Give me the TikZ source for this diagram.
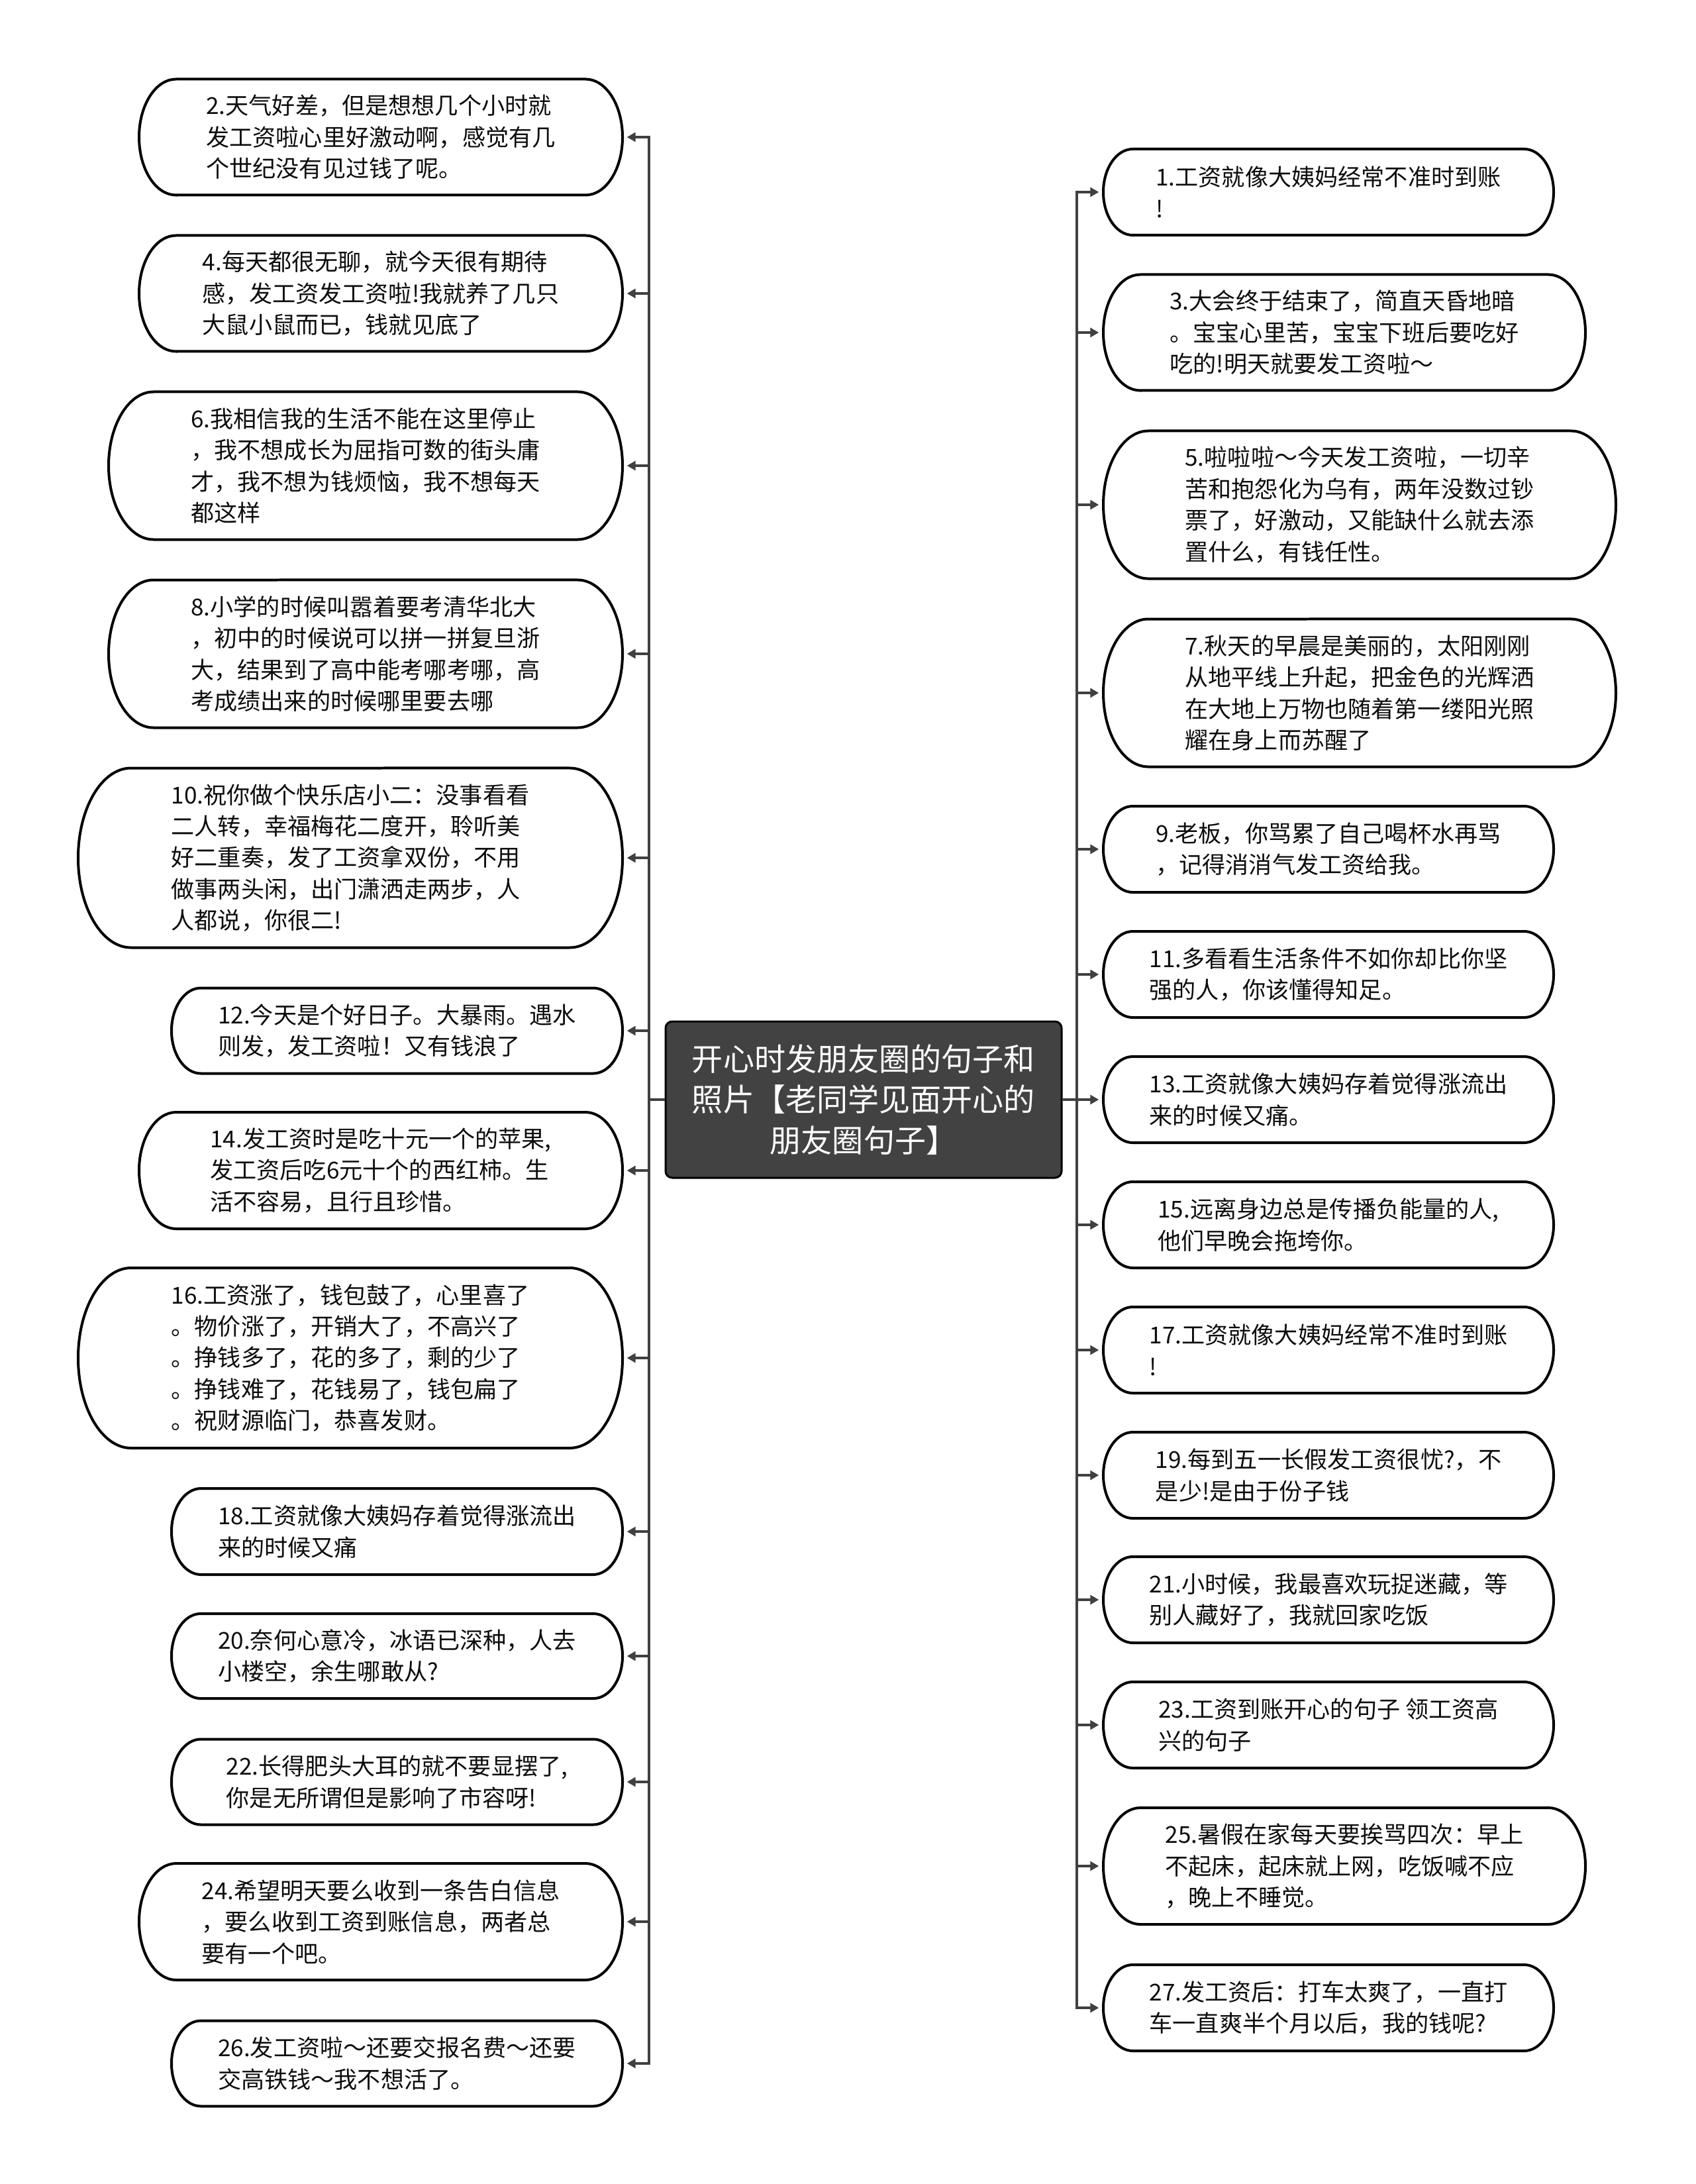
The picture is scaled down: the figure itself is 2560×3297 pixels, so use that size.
\documentclass[tikz,border=0pt]{standalone}
\usepackage{fontspec}
\setmainfont{Noto Sans CJK SC}
\usetikzlibrary{arrows.meta}
\definecolor{linegray}{HTML}{404040}
\definecolor{rootfill}{HTML}{424242}
\tikzset{
  bubline/.style={draw=black, line width=0.4mm, fill=white},
  bubtext/.style={inner sep=0pt, align=left, text=black!95, font=\fontsize{10pt}{13.5pt}\selectfont},
  root/.style={draw=black, line width=0.3mm, fill=rootfill, rounded corners=1mm, text=white, align=center, font=\fontsize{13.4pt}{17.4pt}\selectfont, inner sep=0pt},
  conn/.style={draw=linegray, line width=0.38mm, -{Triangle[length=1.3mm,width=1.4mm]}, shorten >=0.6mm},
}
\newcommand\bubble[6]{%
  \pgfmathsetmacro\bxa{#2}\pgfmathsetmacro\bxb{#3}%
  \pgfmathsetmacro\bcx{(#2+#3)/2}\pgfmathsetmacro\bcy{-#4}%
  \pgfmathsetmacro\brx{0.25*#5+12}\pgfmathsetmacro\bry{#5/2}%
  \pgfmathsetmacro\bw{(#3-#2)*0.1}\pgfmathsetmacro\bh{#5*0.1}%
  \pgfmathsetmacro\brxd{\brx*0.1}\pgfmathsetmacro\bryd{\bry*0.1}%
  \draw[bubline] (\bxa+\brx,\bcy-\bry) -- (\bxb-\brx,\bcy-\bry)
    arc[start angle=-90,end angle=90,x radius=\brxd mm,y radius=\bryd mm]
    -- (\bxa+\brx,\bcy+\bry)
    arc[start angle=90,end angle=270,x radius=\brxd mm,y radius=\bryd mm] -- cycle;
  \node[bubtext, minimum width=\bw mm, minimum height=\bh mm] (#1) at (\bcx,\bcy) {#6};
}
\begin{document}
\begin{tikzpicture}[x=0.1mm,y=0.1mm]
\fill[white] (0,0) rectangle (2560,-3297);
\useasboundingbox (0,0) rectangle (2560,-3297);

% root
\node[root, minimum width=59.8mm, minimum height=23.6mm] (c) at (1304,-1660)
  {开心时发朋友圈的句子和\\照片【老同学见面开心的\\朋友圈句子】};
\coordinate (lt) at (980,-1660);
\coordinate (rt) at (1626,-1660);

% left column
\bubble{L2}{210}{940}{207}{175}{2.天气好差，但是想想几个小时就\\发工资啦心里好激动啊，感觉有几\\个世纪没有见过钱了呢。}
\bubble{L4}{210}{940}{443}{175}{4.每天都很无聊，就今天很有期待\\感，发工资发工资啦!我就养了几只\\大鼠小鼠而已，钱就见底了}
\bubble{L6}{164}{940}{703}{223}{6.我相信我的生活不能在这里停止\\，我不想成长为屈指可数的街头庸\\才，我不想为钱烦恼，我不想每天\\都这样}
\bubble{L8}{164}{940}{987}{223}{8.小学的时候叫嚣着要考清华北大\\，初中的时候说可以拼一拼复旦浙\\大，结果到了高中能考哪考哪，高\\考成绩出来的时候哪里要去哪}
\bubble{L10}{118}{940}{1295}{271}{10.祝你做个快乐店小二：没事看看\\二人转，幸福梅花二度开，聆听美\\好二重奏，发了工资拿双份，不用\\做事两头闲，出门潇洒走两步，人\\人都说，你很二!}
\bubble{L12}{259}{940}{1556}{129}{12.今天是个好日子。大暴雨。遇水\\则发，发工资啦！又有钱浪了}
\bubble{L14}{210}{940}{1767}{176}{14.发工资时是吃十元一个的苹果,\\发工资后吃6元十个的西红柿。生\\活不容易，且行且珍惜。}
\bubble{L16}{118}{940}{2050}{272}{16.工资涨了，钱包鼓了，心里喜了\\。物价涨了，开销大了，不高兴了\\。挣钱多了，花的多了，剩的少了\\。挣钱难了，花钱易了，钱包扁了\\。祝财源临门，恭喜发财。}
\bubble{L18}{259}{940}{2312}{130}{18.工资就像大姨妈存着觉得涨流出\\来的时候又痛}
\bubble{L20}{259}{940}{2500}{128}{20.奈何心意冷，冰语已深种，人去\\小楼空，余生哪敢从?}
\bubble{L22}{259}{940}{2690}{129}{22.长得肥头大耳的就不要显摆了,\\你是无所谓但是影响了市容呀!}
\bubble{L24}{210}{940}{2901}{176}{24.希望明天要么收到一条告白信息\\，要么收到工资到账信息，两者总\\要有一个吧。}
\bubble{L26}{259}{940}{3115}{129}{26.发工资啦～还要交报名费～还要\\交高铁钱～我不想活了。}

% right column
\bubble{R1}{1666}{2346}{290}{130}{1.工资就像大姨妈经常不准时到账\\!}
\bubble{R3}{1666}{2394}{502}{175}{3.大会终于结束了，简直天昏地暗\\。宝宝心里苦，宝宝下班后要吃好\\吃的!明天就要发工资啦～}
\bubble{R5}{1666}{2440}{762}{223}{5.啦啦啦～今天发工资啦，一切辛\\苦和抱怨化为乌有，两年没数过钞\\票了，好激动，又能缺什么就去添\\置什么，有钱任性。}
\bubble{R7}{1666}{2440}{1046}{223}{7.秋天的早晨是美丽的，太阳刚刚\\从地平线上升起，把金色的光辉洒\\在大地上万物也随着第一缕阳光照\\耀在身上而苏醒了}
\bubble{R9}{1666}{2346}{1282}{130}{9.老板，你骂累了自己喝杯水再骂\\，记得消消气发工资给我。}
\bubble{R11}{1666}{2346}{1471}{130}{11.多看看生活条件不如你却比你坚\\强的人，你该懂得知足。}
\bubble{R13}{1666}{2346}{1660}{130}{13.工资就像大姨妈存着觉得涨流出\\来的时候又痛。}
\bubble{R15}{1666}{2346}{1849}{130}{15.远离身边总是传播负能量的人,\\他们早晚会拖垮你。}
\bubble{R17}{1666}{2346}{2038}{130}{17.工资就像大姨妈经常不准时到账\\!}
\bubble{R19}{1666}{2346}{2227}{130}{19.每到五一长假发工资很忧?，不\\是少!是由于份子钱}
\bubble{R21}{1666}{2346}{2415}{130}{21.小时候，我最喜欢玩捉迷藏，等\\别人藏好了，我就回家吃饭}
\bubble{R23}{1666}{2346}{2604}{130}{23.工资到账开心的句子 领工资高\\兴的句子}
\bubble{R25}{1666}{2394}{2817}{176}{25.暑假在家每天要挨骂四次：早上\\不起床，起床就上网，吃饭喊不应\\，晚上不睡觉。}
\bubble{R27}{1666}{2346}{3031}{130}{27.发工资后：打车太爽了，一直打\\车一直爽半个月以后，我的钱呢?}

% connectors
\foreach \n in {L2,L4,L6,L8,L10,L12,L14,L16,L18,L20,L22,L24,L26}
  \draw[conn] (c.west) -- (lt) |- (\n.east);
\foreach \n in {R1,R3,R5,R7,R9,R11,R13,R15,R17,R19,R21,R23,R25,R27}
  \draw[conn] (c.east) -- (rt) |- (\n.west);
\end{tikzpicture}
\end{document}
